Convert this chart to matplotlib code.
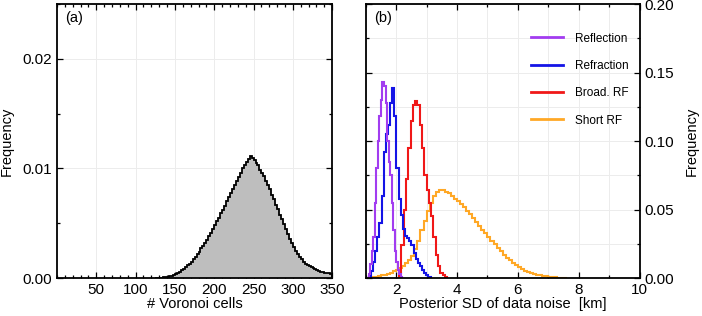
import numpy as np
import matplotlib
matplotlib.use('Agg')
from matplotlib import pyplot as plt
from matplotlib.ticker import MultipleLocator
from matplotlib.lines import Line2D

plt.rcParams['font.family'] = ['Liberation Sans', 'DejaVu Sans']

# (a) number of Voronoi cells, bins of 2.5 starting at 125
cells_start, cells_width = 125, 2.5
cells_freq = [0.00001, 0.00002, 0.00004, 0.00005, 0.00007, 0.0001, 0.00014, 0.00018,
              0.00023, 0.00028, 0.00035, 0.00045, 0.00055, 0.0007, 0.00085, 0.001,
              0.0012, 0.0013, 0.0015, 0.0017, 0.0019, 0.0022, 0.0024, 0.0027, 0.0029,
              0.0032, 0.0035, 0.0038, 0.0041, 0.0045, 0.0048, 0.0052, 0.0055, 0.0059,
              0.0062, 0.0066, 0.0070, 0.0074, 0.0078, 0.0081, 0.0085, 0.0089, 0.0092,
              0.0096, 0.0100, 0.0103, 0.0106, 0.0109, 0.0111, 0.0110, 0.0108, 0.0105,
              0.0103, 0.0099, 0.0096, 0.0093, 0.0089, 0.0085, 0.0081, 0.0076, 0.0072,
              0.0067, 0.0063, 0.0058, 0.0054, 0.0049, 0.0045, 0.0040, 0.0036, 0.0032,
              0.0028, 0.0025, 0.0022, 0.0019, 0.0017, 0.0015, 0.0013, 0.0012, 0.0011,
              0.0010, 0.0009, 0.0008, 0.0007, 0.00065, 0.0006, 0.00055, 0.0005, 0.00047,
              0.00044, 0.0004]

# (b) posterior SD of data noise per data type
refl_start, refl_width = 1.05, 0.05
refl_freq = [0.0, 0.003, 0.010, 0.020, 0.030, 0.055, 0.080, 0.100, 0.118, 0.130,
             0.143, 0.140, 0.128, 0.100, 0.085, 0.075, 0.055, 0.035, 0.020, 0.012,
             0.006, 0.003, 0.001]

refr_start, refr_width = 1.10, 0.07
refr_freq = [0.001, 0.005, 0.012, 0.020, 0.030, 0.040, 0.060, 0.092, 0.105, 0.112,
             0.128, 0.139, 0.118, 0.080, 0.058, 0.046, 0.036, 0.031, 0.029, 0.027,
             0.024, 0.018, 0.014, 0.011, 0.009, 0.006, 0.004, 0.002, 0.001]

broad_start, broad_width = 2.10, 0.075
broad_freq = [0.004, 0.024, 0.050, 0.072, 0.095, 0.115, 0.126, 0.129, 0.126, 0.112,
              0.095, 0.075, 0.064, 0.055, 0.045, 0.030, 0.017, 0.009, 0.004, 0.002,
              0.001]

short_start, short_width = 1.2, 0.1
short_freq = [0.0005, 0.001, 0.0015, 0.002, 0.0025, 0.003, 0.004, 0.005, 0.006, 0.007,
              0.009, 0.011, 0.013, 0.016, 0.021, 0.027, 0.035, 0.042, 0.049, 0.055,
              0.060, 0.063, 0.064, 0.064, 0.063, 0.062, 0.060, 0.058, 0.056, 0.054,
              0.052, 0.049, 0.047, 0.044, 0.041, 0.038, 0.035, 0.033, 0.030, 0.027,
              0.025, 0.022, 0.020, 0.017, 0.015, 0.013, 0.011, 0.0095, 0.008, 0.0065,
              0.0055, 0.0045, 0.0037, 0.003, 0.0025, 0.002, 0.0015, 0.0012, 0.001,
              0.0008, 0.0006, 0.0004, 0.0002, 0.0001]

series = [
    ('Short RF', short_start, short_width, short_freq, '#ffa826'),
    ('Broad. RF', broad_start, broad_width, broad_freq, '#f01818'),
    ('Refraction', refr_start, refr_width, refr_freq, '#1414e6'),
    ('Reflection', refl_start, refl_width, refl_freq, '#a23cf0'),
]
legend_order = ['Reflection', 'Refraction', 'Broad. RF', 'Short RF']


def edges(start, width, n):
    return start + width * np.arange(n + 1)


def style_axes(ax):
    ax.tick_params(which='both', direction='in', top=True, right=True,
                   labelsize=11, width=0.9)
    ax.tick_params(which='major', length=4)
    ax.tick_params(which='minor', length=2.5)
    for sp in ax.spines.values():
        sp.set_linewidth(1.3)
    ax.set_axisbelow(True)


fig = plt.figure(figsize=(7.02, 3.16), dpi=100)

# panel (a)
ax1 = fig.add_axes([0.0812, 0.120, 0.392, 0.867])
e = edges(cells_start, cells_width, len(cells_freq))
ax1.stairs(cells_freq, e, fill=True, color='#bebebe', linewidth=0)
ax1.stairs(cells_freq, e, color='black', linewidth=1.3)
ax1.set_xlim(0, 350)
ax1.set_ylim(0, 0.025)
ax1.set_xticks([50, 100, 150, 200, 250, 300, 350])
ax1.xaxis.set_minor_locator(MultipleLocator(10))
ax1.set_yticks([0.0, 0.01, 0.02])
ax1.set_yticklabels(['0.00', '0.01', '0.02'])
ax1.yaxis.set_minor_locator(MultipleLocator(0.005))
ax1.grid(True, which='major', color='#ececec', linewidth=0.7)
style_axes(ax1)
ax1.set_xlabel('# Voronoi cells', fontsize=10.5, labelpad=0)
ax1.set_ylabel('Frequency', fontsize=10.5, labelpad=6)
ax1.text(0.03, 0.975, '(a)', transform=ax1.transAxes, fontsize=10.5, va='top')

# panel (b)
ax2 = fig.add_axes([0.521, 0.120, 0.390, 0.867])
for name, start, width, freq, col in series:
    ax2.stairs(freq, edges(start, width, len(freq)), color=col, linewidth=1.5)
ax2.set_xlim(1, 10)
ax2.set_ylim(0, 0.2)
ax2.set_xticks([2, 4, 6, 8, 10])
ax2.xaxis.set_minor_locator(MultipleLocator(1))
ax2.set_yticks([0.0, 0.05, 0.10, 0.15, 0.20])
ax2.set_yticklabels(['0.00', '0.05', '0.10', '0.15', '0.20'])
ax2.yaxis.set_minor_locator(MultipleLocator(0.025))
ax2.grid(True, which='both', color='#ececec', linewidth=0.7)
style_axes(ax2)
ax2.tick_params(labelleft=False, labelright=True)
ax2.yaxis.set_label_position('right')
ax2.set_ylabel('Frequency', fontsize=10.5, labelpad=8)
ax2.set_xlabel('Posterior SD of data noise  [km]', fontsize=10.5, labelpad=0)
ax2.text(0.03, 0.975, '(b)', transform=ax2.transAxes, fontsize=10.5, va='top')

colors = {s[0]: s[4] for s in series}
leg_handles = [Line2D([], [], color=colors[n], linewidth=2) for n in legend_order]
ax2.legend(leg_handles, legend_order, loc='upper left', bbox_to_anchor=(0.565, 0.935),
           frameon=False, fontsize=8.5, handlelength=2.7, handletextpad=1.0,
           labelspacing=1.3)

fig.savefig('out.png', dpi=100)
